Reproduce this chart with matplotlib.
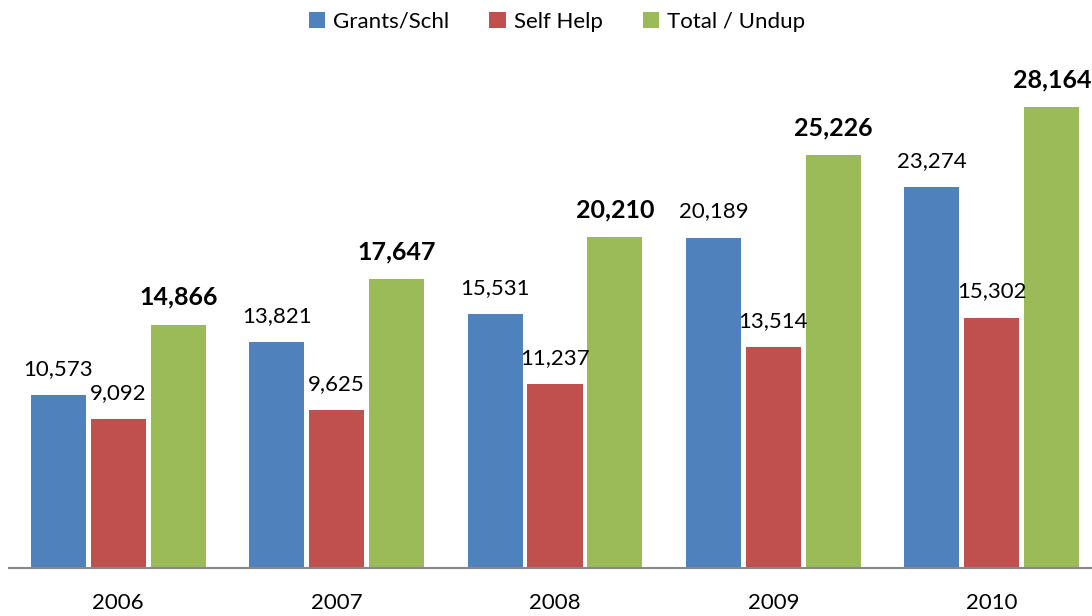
import matplotlib
matplotlib.use("Agg")
import matplotlib.pyplot as plt
import numpy as np

years = ["2006", "2007", "2008", "2009", "2010"]
grants = [10573, 13821, 15531, 20189, 23274]
self_help = [9092, 9625, 11237, 13514, 15302]
total = [14866, 17647, 20210, 25226, 28164]
series_names = ["Grants/Schl", "Self Help", "Total / Undup"]
colors = ["#4F81BD", "#C0504D", "#9BBB59"]

plt.rcParams['font.family'] = ['Lato', 'DejaVu Sans']

W, H = 1092, 616
fig = plt.figure(figsize=(W / 100, H / 100), dpi=100)
left_px, right_px, bottom_px, top_px = 9, 1101, 568, 60
ax = fig.add_axes([left_px / W, (H - bottom_px) / H, (right_px - left_px) / W, (bottom_px - top_px) / H])

x = np.arange(len(years))
bw = 0.252
step = 0.2746
ymax = 28164 * (bottom_px - top_px) / (bottom_px - 107)

handles = []
for i, (vals, name, c) in enumerate(zip([grants, self_help, total], series_names, colors)):
    pos = x + (i - 1) * step
    b = ax.bar(pos, vals, width=bw, color=c, label=name, zorder=2)
    handles.append(b)
    for xp, v in zip(pos, vals):
        bold = i == 2
        ax.annotate(f"{v:,}", (xp, v), xytext=(0, 11.5), textcoords="offset points",
                    ha="center", va="bottom", fontsize=18 if bold else 16,
                    fontweight="bold" if bold else "normal", color="black",
                    annotation_clip=False)

ax.set_xlim(-0.5, len(years) - 0.5)
ax.set_ylim(0, ymax)
ax.set_xticks(x)
ax.set_xticklabels(years, fontsize=16)
ax.tick_params(axis="x", length=0, pad=18)
ax.set_yticks([])
for s in ["top", "right", "left"]:
    ax.spines[s].set_visible(False)
ax.spines["bottom"].set_color("#888888")
ax.spines["bottom"].set_linewidth(1.5)

fig.legend(handles=handles, labels=series_names, loc="center", bbox_to_anchor=(0.51, 1 - 22 / H),
           ncol=3, frameon=False, fontsize=16, handlelength=0.75, handleheight=0.75,
           handletextpad=0.35, columnspacing=1.8)

fig.savefig("out.png", dpi=100)
